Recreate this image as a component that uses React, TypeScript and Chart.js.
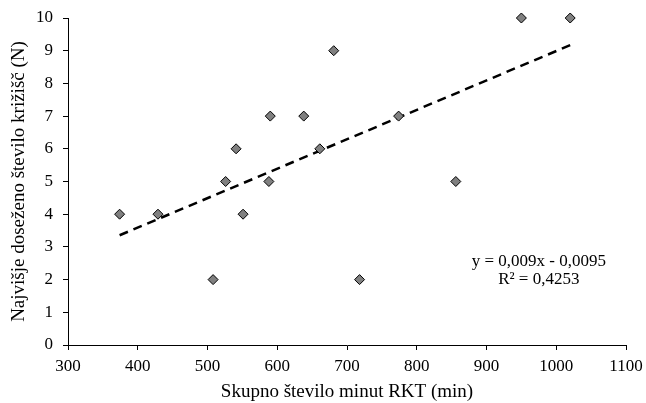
import React, { useEffect, useRef } from "react";
import { Chart, registerables } from "chart.js";

Chart.register(...registerables);

const xValues = [374, 429, 508, 551, 526, 541, 590, 588, 638, 661, 681, 774, 856, 718, 950, 1020];
const yValues = [4, 4, 2, 4, 5, 6, 7, 5, 7, 6, 9, 7, 5, 2, 10, 10];
const slope = 0.009;
const intercept = -0.0095;
const equationLines = ["y = 0,009x - 0,0095", "R² = 0,4253"];
const xTitle = "Skupno število minut RKT (min)";
const yTitle = "Najvišje doseženo število križišč (N)";

const FONT = "'Liberation Serif', 'Times New Roman', serif";

export default function App() {
  const ref = useRef<HTMLCanvasElement | null>(null);

  useEffect(() => {
    if (!ref.current) return;
    const xMin = Math.min(...xValues);
    const xMax = Math.max(...xValues);
    const trend = [
      { x: xMin, y: slope * xMin + intercept },
      { x: xMax, y: slope * xMax + intercept },
    ];
    const eqPlugin = {
      id: "eq",
      afterDatasetsDraw(chart: any) {
        const { ctx, scales } = chart;
        const cx = scales.x.getPixelForValue(975);
        const y0 = scales.y.getPixelForValue(2.54);
        ctx.save();
        ctx.font = `17px ${FONT}`;
        ctx.fillStyle = "#000";
        ctx.textAlign = "center";
        ctx.textBaseline = "middle";
        equationLines.forEach((t, i) => ctx.fillText(t, cx, y0 + i * 18));
        ctx.restore();
      },
    };
    const chart = new Chart(ref.current, {
      type: "scatter",
      data: {
        datasets: [
          {
            data: xValues.map((x, i) => ({ x, y: yValues[i] })),
            pointStyle: "rectRot",
            pointRadius: 5,
            pointBackgroundColor: "#808080",
            pointBorderColor: "#000",
            pointBorderWidth: 1,
            showLine: false,
            clip: false,
          } as any,
          {
            type: "line",
            data: trend,
            borderColor: "#000",
            borderWidth: 2.5,
            borderDash: [9, 6],
            pointRadius: 0,
            fill: false,
          } as any,
        ],
      },
      options: {
        animation: false,
        responsive: false,
        maintainAspectRatio: false,
        layout: { padding: { top: 18, right: 20, left: 0, bottom: 0 } },
        plugins: { legend: { display: false }, tooltip: { enabled: false } },
        scales: {
          x: {
            type: "linear",
            min: 300,
            max: 1100,
            ticks: { stepSize: 100, color: "#000", font: { family: FONT, size: 17 }, padding: 6, maxRotation: 0, callback: (v: any) => String(v) },
            grid: { drawOnChartArea: false, tickLength: 5, color: "#000" },
            border: { color: "#000", width: 1 },
            title: { display: true, text: xTitle, color: "#000", font: { family: FONT, size: 19 }, padding: { top: 4, bottom: 0 } },
            afterFit: (s: any) => { s.height = 58; s.paddingLeft = 0; s.paddingRight = 0; },
          },
          y: {
            min: 0,
            max: 10,
            ticks: { stepSize: 1, color: "#000", font: { family: FONT, size: 17 }, padding: 10, callback: (v: any) => String(v) },
            grid: { drawOnChartArea: false, tickLength: 5, color: "#000" },
            border: { color: "#000", width: 1 },
            title: { display: true, text: yTitle, color: "#000", font: { family: FONT, size: 19 }, padding: { top: 8, bottom: 4 } },
            afterFit: (s: any) => { s.width = 68; s.paddingTop = 0; s.paddingBottom = 0; },
          },
        },
      },
      plugins: [eqPlugin],
    });
    return () => chart.destroy();
  }, []);

  return (
    <div style={{ position: "absolute", left: 0, top: 0, width: 646, height: 403, background: "#fff" }}>
      <canvas ref={ref} width={646} height={403} style={{ width: 646, height: 403 }} />
    </div>
  );
}
